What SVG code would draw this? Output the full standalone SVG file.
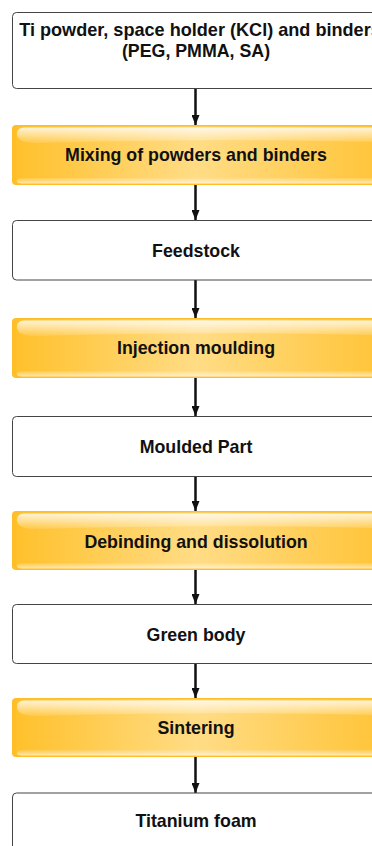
<svg xmlns="http://www.w3.org/2000/svg" width="372" height="846" viewBox="0 0 372 846">
<defs>
<linearGradient id="gBase" x1="0" y1="0" x2="1" y2="0">
<stop offset="0" stop-color="#FFC12C"/>
<stop offset="0.5" stop-color="#FFDC85"/>
<stop offset="1" stop-color="#FFC53A"/>
</linearGradient>
<linearGradient id="gTop" x1="0" y1="0" x2="0" y2="1">
<stop offset="0" stop-color="#FFFFFF" stop-opacity="0.8"/>
<stop offset="1" stop-color="#FFFFFF" stop-opacity="0.1"/>
</linearGradient>
<linearGradient id="gBot" x1="0" y1="0" x2="0" y2="1">
<stop offset="0" stop-color="#FFFFFF" stop-opacity="0.1"/>
<stop offset="1" stop-color="#FFFFFF" stop-opacity="0.6"/>
</linearGradient>
<marker id="ah" viewBox="0 0 10 8" refX="10" refY="4" markerWidth="10" markerHeight="8" markerUnits="userSpaceOnUse" orient="auto">
<path d="M0,0 L10,4 L0,8 Z" fill="#111"/>
</marker>
</defs>
<style>
.wbox{fill:#FFFFFF;stroke:#444;stroke-width:1}
.obase{fill:#FFBE28}
.oinner{fill:url(#gBase)}
.otop{fill:url(#gTop)}
.obot{fill:url(#gBot)}
.t{font-family:"Liberation Sans",Arial,sans-serif;font-weight:bold;font-size:17.8px;fill:#111;text-anchor:middle}
.c{stroke:#111;stroke-width:2.5;fill:none;marker-end:url(#ah)}
</style>

<g id="connectors">
<line class="c" x1="195.5" y1="89" x2="195.5" y2="125"/>
<line class="c" x1="195.5" y1="185" x2="195.5" y2="220"/>
<line class="c" x1="195.5" y1="280" x2="195.5" y2="318"/>
<line class="c" x1="195.5" y1="378" x2="195.5" y2="416"/>
<line class="c" x1="195.5" y1="477" x2="195.5" y2="511"/>
<line class="c" x1="195.5" y1="570" x2="195.5" y2="604"/>
<line class="c" x1="195.5" y1="663" x2="195.5" y2="698"/>
<line class="c" x1="195.5" y1="757" x2="195.5" y2="793"/>
</g>

<g id="n1">
<rect class="wbox" x="12.5" y="12.5" width="368" height="76" rx="4"/>
<text class="t" x="200" y="36" style="font-size:18.1px">Ti powder, space holder (KCl) and binders</text>
<text class="t" x="196" y="56.5">(PEG, PMMA, SA)</text>
</g>

<g id="n2">
<rect class="obase" x="12" y="125" width="368" height="60" rx="4"/>
<rect class="oinner" x="16" y="126.5" width="362" height="57" rx="3"/>
<path class="otop" d="M24,127.5 H372 Q378,127.5 378,133 Q378,141 372,142 Q200,138 40,143 Q17,144 17,134 Q17,127.5 24,127.5 Z"/>
<path class="obot" d="M22,178 H374 Q378,178 378,181 Q378,183.5 374,183.5 H22 Q17,183.5 17,181 Q17,178 22,178 Z"/>
<text class="t" x="196" y="161">Mixing of powders and binders</text>
</g>

<g id="n3">
<rect class="wbox" x="12.5" y="220.5" width="368" height="59.5" rx="4"/>
<text class="t" x="196" y="256.5">Feedstock</text>
</g>

<g id="n4">
<rect class="obase" x="12" y="318" width="368" height="60" rx="4"/>
<rect class="oinner" x="16" y="319.5" width="362" height="57" rx="3"/>
<path class="otop" d="M24,320.5 H372 Q378,320.5 378,326 Q378,334 372,335 Q200,331 40,336 Q17,337 17,327 Q17,320.5 24,320.5 Z"/>
<path class="obot" d="M22,371 H374 Q378,371 378,374 Q378,376.5 374,376.5 H22 Q17,376.5 17,374 Q17,371 22,371 Z"/>
<text class="t" x="196" y="354">Injection moulding</text>
</g>

<g id="n5">
<rect class="wbox" x="12.5" y="416.5" width="368" height="60" rx="4"/>
<text class="t" x="196" y="453">Moulded Part</text>
</g>

<g id="n6">
<rect class="obase" x="12" y="511" width="368" height="59" rx="4"/>
<rect class="oinner" x="16" y="512.5" width="362" height="56" rx="3"/>
<path class="otop" d="M24,513.5 H372 Q378,513.5 378,519 Q378,527 372,528 Q200,524 40,529 Q17,530 17,520 Q17,513.5 24,513.5 Z"/>
<path class="obot" d="M22,563 H374 Q378,563 378,566 Q378,568.5 374,568.5 H22 Q17,568.5 17,566 Q17,563 22,563 Z"/>
<text class="t" x="196" y="547.5">Debinding and dissolution</text>
</g>

<g id="n7">
<rect class="wbox" x="12.5" y="604.5" width="368" height="59" rx="4"/>
<text class="t" x="196" y="640.5">Green body</text>
</g>

<g id="n8">
<rect class="obase" x="12" y="698" width="368" height="59" rx="4"/>
<rect class="oinner" x="16" y="699.5" width="362" height="56" rx="3"/>
<path class="otop" d="M24,700.5 H372 Q378,700.5 378,706 Q378,714 372,715 Q200,711 40,716 Q17,717 17,707 Q17,700.5 24,700.5 Z"/>
<path class="obot" d="M22,750 H374 Q378,750 378,753 Q378,755.5 374,755.5 H22 Q17,755.5 17,753 Q17,750 22,750 Z"/>
<text class="t" x="196" y="734">Sintering</text>
</g>

<g id="n9">
<rect class="wbox" x="12.5" y="793" width="368" height="60" rx="4"/>
<text class="t" x="196" y="826.5">Titanium foam</text>
</g>
</svg>
